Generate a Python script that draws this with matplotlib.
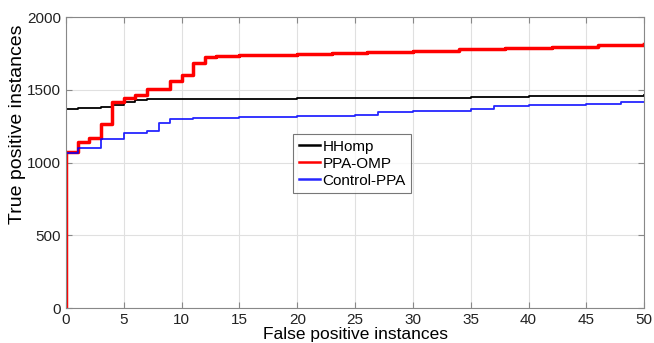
import matplotlib
matplotlib.use("Agg")
import matplotlib.pyplot as plt

plt.rcParams['font.family'] = ['Liberation Sans', 'DejaVu Sans']

black_x = [0, 0, 1, 2, 3, 4, 5, 6, 7, 10, 15, 20, 25, 30, 35, 40, 45, 50]
black_y = [0, 1365, 1372, 1378, 1385, 1398, 1420, 1428, 1438, 1438, 1440, 1442, 1444, 1447, 1452, 1455, 1458, 1462]

red_x = [0, 0, 1, 2, 3, 4, 5, 6, 7, 9, 10, 11, 12, 13, 15, 17, 20, 23, 26, 30, 34, 38, 42, 46, 50]
red_y = [0, 1076, 1142, 1169, 1262, 1419, 1442, 1463, 1505, 1561, 1602, 1683, 1725, 1730, 1737, 1742, 1750, 1755, 1762, 1770, 1780, 1790, 1798, 1806, 1812]

blue_x = [0, 0, 1, 3, 5, 7, 8, 9, 11, 15, 20, 25, 27, 30, 35, 37, 40, 45, 48, 50]
blue_y = [0, 1068, 1100, 1162, 1204, 1215, 1274, 1297, 1308, 1312, 1320, 1325, 1347, 1355, 1370, 1392, 1398, 1405, 1415, 1420]

labels = ["HHomp", "PPA-OMP", "Control-PPA"]
x_ticks = [0, 5, 10, 15, 20, 25, 30, 35, 40, 45, 50]
y_ticks = [0, 500, 1000, 1500, 2000]

fig = plt.figure(figsize=(6.54, 3.43), dpi=100)
ax = fig.add_axes([0.101, 0.102, 0.884, 0.848])

ax.plot(black_x, black_y, drawstyle='steps-post', color='black', lw=1.3, label=labels[0])
ax.plot(red_x, red_y, drawstyle='steps-post', color='#ff0000', lw=2.5, label=labels[1])
ax.plot(blue_x, blue_y, drawstyle='steps-post', color='#0000ff', lw=1.3, label=labels[2], alpha=0.85)

ax.set_xlim(0, 50)
ax.set_ylim(0, 2000)
ax.set_xticks(x_ticks)
ax.set_yticks(y_ticks)
ax.grid(True, color='#e0e0e0', lw=0.8)
ax.set_axisbelow(True)
ax.tick_params(direction='in', top=True, right=True, labelsize=11, colors='#222222', length=4)
ax.tick_params(axis='both', color='#888888')
for s in ax.spines.values():
    s.set_color('#888888')

ax.set_xlabel("False positive instances", fontsize=12.5)
ax.xaxis.set_label_coords(0.5, -0.066, transform=ax.transAxes)
ax.xaxis.label.set_verticalalignment('top')
ax.set_ylabel("True positive instances", fontsize=14)
ax.yaxis.set_label_coords(-0.07, 0.632)

leg = ax.legend(loc='upper left', bbox_to_anchor=(0.393, 0.597), fontsize=11, frameon=True,
                fancybox=False, edgecolor='#555555', handlelength=1.4, handletextpad=0.15,
                borderpad=0.35, labelspacing=0.2, borderaxespad=0)
leg.get_frame().set_linewidth(0.8)
for line in leg.get_lines():
    line.set_linewidth(1.8)

fig.savefig("out.png", dpi=100)
